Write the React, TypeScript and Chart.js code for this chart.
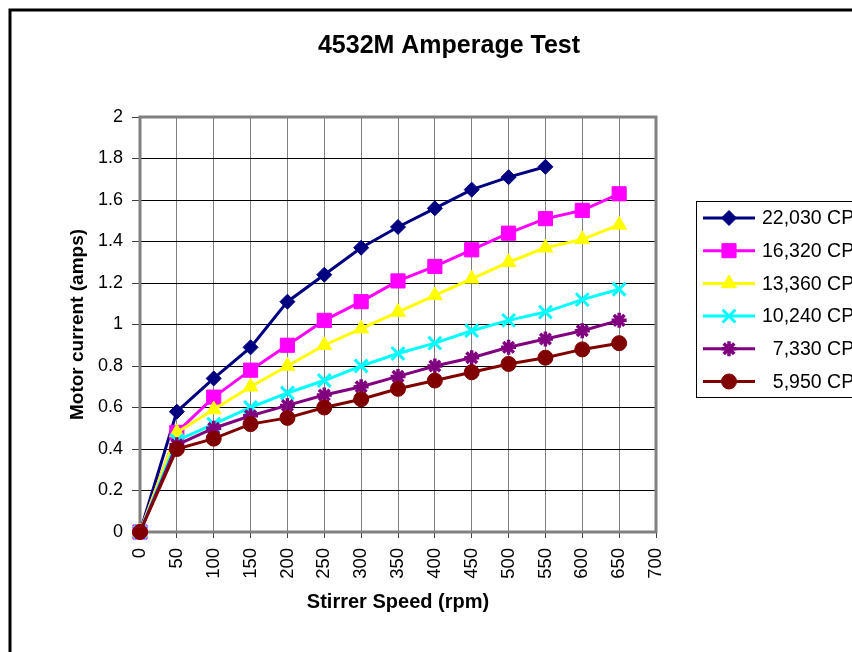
import React, { useEffect, useRef } from 'react';
import { Chart, registerables } from 'chart.js';
import { drawPoint } from 'chart.js/helpers';

Chart.register(...registerables);

const chartTitle = '4532M Amperage Test';
const xTitle = 'Stirrer Speed (rpm)';
const yTitle = 'Motor current (amps)';

const rpm = [0, 50, 100, 150, 200, 250, 300, 350, 400, 450, 500, 550, 600, 650];

const cps22030 = [0, 0.58, 0.74, 0.89, 1.11, 1.24, 1.37, 1.47, 1.56, 1.65, 1.71, 1.76];
const cps16320 = [0, 0.48, 0.65, 0.78, 0.9, 1.02, 1.11, 1.21, 1.28, 1.36, 1.44, 1.51, 1.55, 1.63];
const cps13360 = [0, 0.48, 0.59, 0.7, 0.8, 0.9, 0.98, 1.06, 1.14, 1.22, 1.3, 1.37, 1.41, 1.48];
const cps10240 = [0, 0.44, 0.52, 0.6, 0.67, 0.73, 0.8, 0.86, 0.91, 0.97, 1.02, 1.06, 1.12, 1.17];
const cps7330 = [0, 0.42, 0.5, 0.56, 0.61, 0.66, 0.7, 0.75, 0.8, 0.84, 0.89, 0.93, 0.97, 1.02];
const cps5950 = [0, 0.4, 0.45, 0.52, 0.55, 0.6, 0.64, 0.69, 0.73, 0.77, 0.81, 0.84, 0.88, 0.91];

const seriesValues = [cps22030, cps16320, cps13360, cps10240, cps7330, cps5950];
const seriesNumbers = ['22,030', '16,320', '13,360', '10,240', '7,330', '5,950'];
const seriesUnit = ' CPS';

const colors = ['#000080', '#FF00FF', '#FFFF00', '#00FFFF', '#800080', '#800000'];
const pointStyles = ['rectRot', 'rect', 'triangle', 'crossRot', 'star', 'circle'];
const pointRadii = [7.5, 10, 8.5, 9, 7.5, 7.5];
const pointBorders = [1, 1, 1, 3, 3.5, 1];

const FONT = '"Liberation Sans", Arial, sans-serif';

const decorPlugin = {
  id: 'decor',
  beforeDraw(chart: any) {
    const ctx = chart.ctx;
    ctx.save();
    ctx.fillStyle = '#ffffff';
    ctx.fillRect(0, 0, chart.width, chart.height);
    ctx.restore();
  },
  beforeDatasetsDraw(chart: any) {
    const { ctx, chartArea } = chart;
    ctx.save();
    ctx.strokeStyle = '#808080';
    ctx.lineWidth = 3;
    ctx.strokeRect(chartArea.left, chartArea.top, chartArea.right - chartArea.left, chartArea.bottom - chartArea.top);
    ctx.restore();
  },
  afterDraw(chart: any) {
    const ctx = chart.ctx;
    ctx.save();
    // outer frame
    ctx.strokeStyle = '#000000';
    ctx.lineWidth = 3;
    ctx.strokeRect(10, 10, chart.width + 20, chart.height + 20);
    // title
    ctx.fillStyle = '#000000';
    ctx.font = 'bold 25px ' + FONT;
    ctx.textAlign = 'center';
    ctx.textBaseline = 'alphabetic';
    ctx.fillText(chartTitle, 449, 53);
    // legend box
    ctx.lineWidth = 1;
    ctx.strokeStyle = '#000000';
    ctx.strokeRect(696.5, 201.5, 200, 196);
    ctx.font = '19.5px ' + FONT;
    ctx.textBaseline = 'middle';
    const numRight = 762 + ctx.measureText('22,030').width;
    for (let i = 0; i < seriesNumbers.length; i++) {
      const y = 218 + i * 32.7;
      ctx.strokeStyle = colors[i];
      ctx.lineWidth = 3;
      ctx.beginPath();
      ctx.moveTo(703, y);
      ctx.lineTo(755, y);
      ctx.stroke();
      ctx.fillStyle = colors[i];
      ctx.strokeStyle = colors[i];
      ctx.lineWidth = pointBorders[i];
      drawPoint(ctx, { pointStyle: pointStyles[i], radius: pointRadii[i], rotation: 0, borderWidth: pointBorders[i] } as any, 729, y);
      ctx.fillStyle = '#000000';
      ctx.textAlign = 'right';
      ctx.fillText(seriesNumbers[i], numRight, y + 1);
      ctx.textAlign = 'left';
      ctx.fillText(seriesUnit, numRight, y + 1);
    }
    ctx.restore();
  },
};

export default function App() {
  const ref = useRef<HTMLCanvasElement | null>(null);

  useEffect(() => {
    if (!ref.current) return;
    const datasets = seriesValues.map((vals, i) => ({
      label: seriesNumbers[i] + seriesUnit,
      data: vals.map((v, j) => ({ x: rpm[j], y: v })),
      order: seriesValues.length - 1 - i,
      borderColor: colors[i],
      backgroundColor: colors[i],
      borderWidth: 3,
      pointStyle: pointStyles[i],
      pointRadius: pointRadii[i],
      pointHoverRadius: pointRadii[i],
      pointBorderWidth: pointBorders[i],
      pointBackgroundColor: colors[i],
      pointBorderColor: colors[i],
      tension: 0,
      clip: false as any,
    }));
    const chart = new Chart(ref.current, {
      type: 'line',
      data: { datasets },
      plugins: [decorPlugin],
      options: {
        responsive: false,
        animation: false,
        devicePixelRatio: 1,
        layout: { padding: { left: 62, top: 117, right: 196, bottom: 34 } },
        plugins: {
          legend: { display: false },
          tooltip: { enabled: false },
          title: { display: false },
        },
        scales: {
          x: {
            type: 'linear',
            min: 0,
            max: 700,
            afterFit: (s: any) => { s.height = 86; },
            ticks: {
              stepSize: 50,
              autoSkip: false,
              maxRotation: 90,
              minRotation: 90,
              padding: 10,
              color: '#000000',
              font: { family: FONT, size: 18.5 },
              callback: (v: any) => String(v),
            },
            grid: { color: '#808080', lineWidth: 1, tickLength: 6, tickColor: '#404040' },
            border: { display: false },
            title: {
              display: true,
              text: xTitle,
              color: '#000000',
              font: { family: FONT, size: 20, weight: 'bold' },
            },
          },
          y: {
            type: 'linear',
            min: 0,
            max: 2,
            afterFit: (s: any) => { s.width = 78; },
            ticks: {
              stepSize: 0.2,
              padding: 9,
              color: '#000000',
              font: { family: FONT, size: 18 },
              callback: (v: any) => String(Number(Number(v).toFixed(1))),
            },
            grid: { color: '#000000', lineWidth: 1, tickLength: 8, tickColor: '#404040' },
            border: { display: false },
            title: {
              display: true,
              text: yTitle,
              color: '#000000',
              font: { family: FONT, size: 19, weight: 'bold' },
            },
          },
        },
      } as any,
    });
    return () => chart.destroy();
  }, []);

  return (
    <div style={{ position: 'fixed', left: 0, top: 0, width: 852, height: 652, overflow: 'hidden', background: '#fff' }}>
      <canvas ref={ref} width={852} height={652} style={{ width: 852, height: 652, display: 'block' }} />
    </div>
  );
}
